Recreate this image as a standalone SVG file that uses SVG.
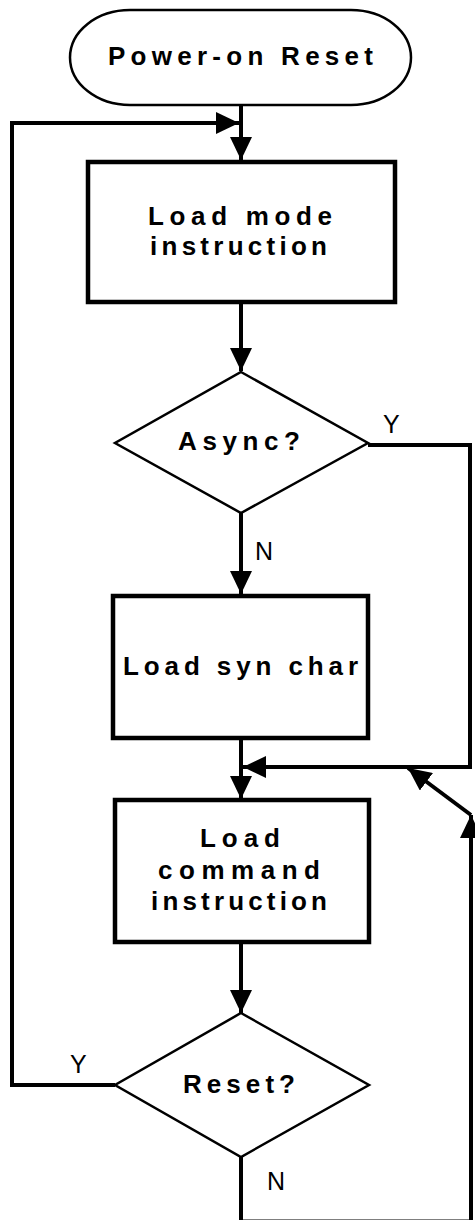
<svg xmlns="http://www.w3.org/2000/svg" width="475" height="1220" viewBox="0 0 475 1220">
  <style>
    .bg { fill: #ffffff; }
    .box { fill: #ffffff; stroke: #000000; stroke-width: 4.5; }
    .thin { fill: #ffffff; stroke: #000000; stroke-width: 2.5; }
    .wire { fill: none; stroke: #000000; stroke-width: 4; stroke-linejoin: miter; }
    .label { font-family: "Liberation Sans", Arial, sans-serif; font-weight: bold; font-size: 26px; fill: #000000; }
    .yn { font-family: "Liberation Sans", Arial, sans-serif; font-size: 25px; fill: #000000; }
  </style>
  <defs>
    <marker id="head" markerUnits="userSpaceOnUse" markerWidth="24" markerHeight="22" refX="23" refY="11" orient="auto">
      <path d="M0,0 L23,11 L0,22 Z" fill="#000000"/>
    </marker>
  </defs>

  <rect class="bg" x="0" y="0" width="475" height="1220"/>

  <!-- flow lines -->
  <g id="connectors">
    <path class="wire" d="M241,105 V160" marker-end="url(#head)"/>
    <path class="wire" d="M115,1085 H12 V123 H239" marker-end="url(#head)"/>
    <path class="wire" d="M241,302 V371" marker-end="url(#head)"/>
    <path class="wire" d="M241,513 V594" marker-end="url(#head)"/>
    <path class="wire" d="M241,738 V799" marker-end="url(#head)"/>
    <path class="wire" d="M368,445 H470 V767 H243" marker-end="url(#head)"/>
    <path class="wire" d="M471,815 L408,768" marker-end="url(#head)"/>
    <path class="wire" d="M241,942 V1013" marker-end="url(#head)"/>
    <path class="wire" d="M241,1157 V1221.5 H471 V815" marker-end="url(#head)"/>
  </g>

  <g id="power-on-reset">
    <rect class="thin" x="70" y="10" width="341" height="95" rx="60" ry="47.5"/>
    <text class="label" x="108" y="65" textLength="265" lengthAdjust="spacing">Power-on Reset</text>
  </g>

  <g id="load-mode">
    <rect class="box" x="88" y="162" width="307" height="140"/>
    <text class="label" x="148" y="225" textLength="184" lengthAdjust="spacing">Load mode</text>
    <text class="label" x="150" y="255" textLength="177" lengthAdjust="spacing">instruction</text>
  </g>

  <g id="async">
    <polygon class="thin" points="241,372 368,443 241,513 115,443"/>
    <text class="label" x="178" y="450" textLength="122" lengthAdjust="spacing">Async?</text>
    <text class="yn" x="383" y="433">Y</text>
    <text class="yn" x="255" y="560">N</text>
  </g>

  <g id="load-syn-char">
    <rect class="box" x="113" y="596" width="255" height="142"/>
    <text class="label" x="123" y="675" textLength="235" lengthAdjust="spacing">Load syn char</text>
  </g>

  <g id="load-command">
    <rect class="box" x="115" y="800" width="254" height="142"/>
    <text class="label" x="200" y="847" textLength="80" lengthAdjust="spacing">Load</text>
    <text class="label" x="158" y="879" textLength="162" lengthAdjust="spacing">command</text>
    <text class="label" x="151" y="910" textLength="176" lengthAdjust="spacing">instruction</text>
  </g>

  <g id="reset">
    <polygon class="thin" points="241,1013 369,1085 241,1157 115,1085"/>
    <text class="label" x="183" y="1093" textLength="112" lengthAdjust="spacing">Reset?</text>
    <text class="yn" x="70" y="1073">Y</text>
    <text class="yn" x="267" y="1190">N</text>
  </g>
</svg>
